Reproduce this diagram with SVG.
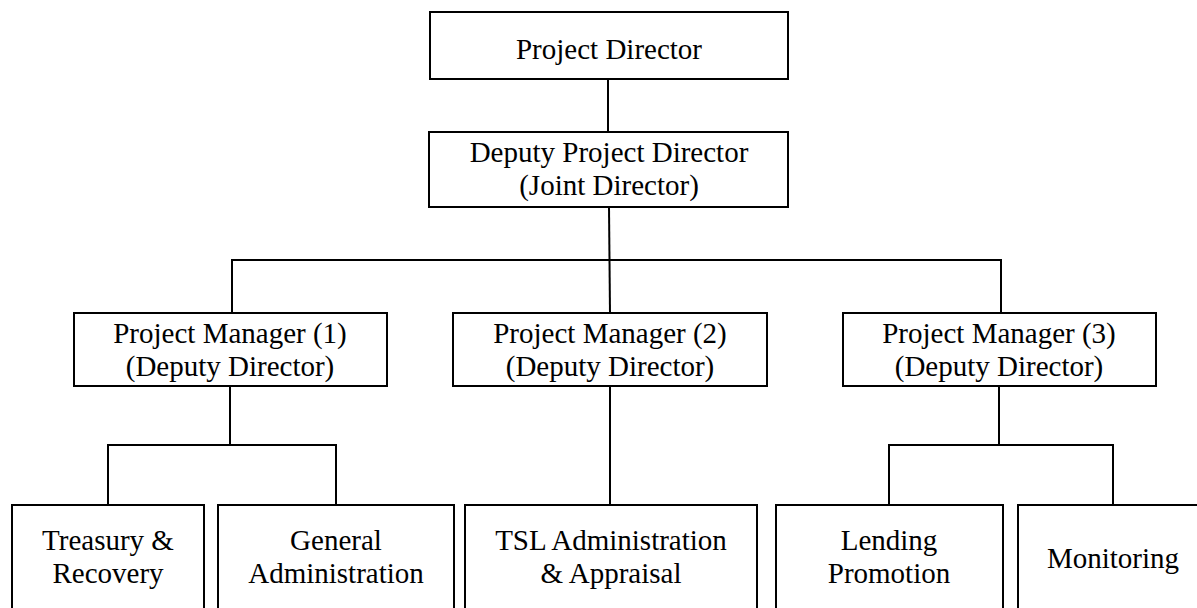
<svg xmlns="http://www.w3.org/2000/svg" width="1197" height="608" viewBox="0 0 1197 608">
<style>
.box{fill:#fff;stroke:#000;stroke-width:2}
.ln{fill:none;stroke:#000;stroke-width:2}
text{font-family:"Liberation Serif","Times New Roman",serif;font-size:29px;fill:#000;text-anchor:middle}
</style>
<rect width="1197" height="608" fill="#fff"/>
<g id="connectors">
<line class="ln" x1="608" y1="79" x2="608" y2="133"/>
<line class="ln" x1="609" y1="207" x2="610" y2="313"/>
<polyline class="ln" points="232,313 232,260 1001,260 1001,313"/>
<line class="ln" x1="230" y1="386" x2="230" y2="445"/>
<polyline class="ln" points="108,505 108,445 336,445 336,505"/>
<line class="ln" x1="610" y1="386" x2="610" y2="505"/>
<line class="ln" x1="999" y1="386" x2="999" y2="445"/>
<polyline class="ln" points="889,505 889,445 1113,445 1113,505"/>
</g>
<g id="n-project-director">
<rect class="box" x="430" y="12" width="358" height="67"/>
<text x="609" y="59">Project Director</text>
</g>
<g id="n-deputy">
<rect class="box" x="429" y="132" width="359" height="75"/>
<text x="609" y="162">Deputy Project Director</text>
<text x="609" y="195">(Joint Director)</text>
</g>
<g id="n-pm1">
<rect class="box" x="74" y="313" width="313" height="73"/>
<text x="230" y="343">Project Manager (1)</text>
<text x="230" y="376">(Deputy Director)</text>
</g>
<g id="n-pm2">
<rect class="box" x="453" y="313" width="314" height="73"/>
<text x="610" y="343">Project Manager (2)</text>
<text x="610" y="376">(Deputy Director)</text>
</g>
<g id="n-pm3">
<rect class="box" x="843" y="313" width="313" height="73"/>
<text x="999" y="343">Project Manager (3)</text>
<text x="999" y="376">(Deputy Director)</text>
</g>
<g id="n-treasury">
<rect class="box" x="12" y="505" width="192" height="120"/>
<text x="108" y="550">Treasury &amp;</text>
<text x="108" y="583">Recovery</text>
</g>
<g id="n-general">
<rect class="box" x="218" y="505" width="236" height="120"/>
<text x="336" y="550">General</text>
<text x="336" y="583">Administration</text>
</g>
<g id="n-tsl">
<rect class="box" x="465" y="505" width="292" height="120"/>
<text x="611" y="550">TSL Administration</text>
<text x="611" y="583">&amp; Appraisal</text>
</g>
<g id="n-lending">
<rect class="box" x="776" y="505" width="227" height="120"/>
<text x="889" y="550">Lending</text>
<text x="889" y="583">Promotion</text>
</g>
<g id="n-monitoring">
<rect class="box" x="1018" y="505" width="200" height="120"/>
<text x="1113" y="568">Monitoring</text>
</g>
</svg>
